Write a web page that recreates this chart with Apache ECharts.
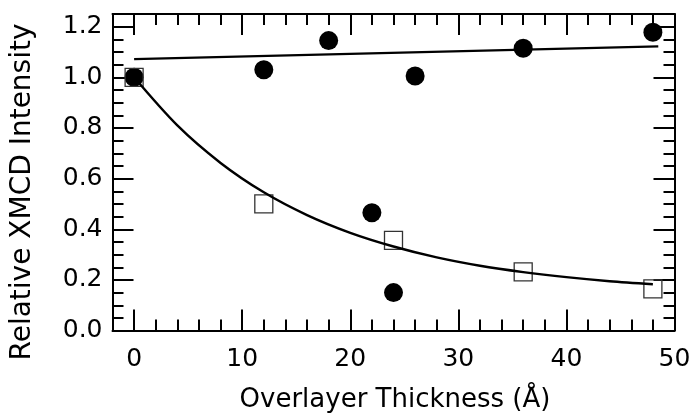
<!DOCTYPE html>
<html>
<head>
<meta charset="utf-8">
<script src="https://cdn.jsdelivr.net/npm/echarts@6/dist/echarts.min.js"></script>
<style>
  html, body { margin: 0; padding: 0; background: #fff; }
  #chart { width: 691px; height: 415px; }
</style>
</head>
<body>
<div id="chart"></div>
<script>
// filled circles
const circlesX = [0, 12, 18, 22, 24, 26, 36, 48];
const circlesY = [1.0, 1.03, 1.145, 0.465, 0.15, 1.005, 1.115, 1.178];
// open squares
const squaresX = [0, 12, 24, 36, 48];
const squaresY = [1.0, 0.5, 0.356, 0.232, 0.165];
// nearly flat fit line through the circles
const flatFitX = [0, 48.5];
const flatFitY = [1.072, 1.122];
// decay curve through the squares
const decayFitX = [0, 4, 8, 12, 16, 20, 24, 28, 32, 36, 40, 44, 48];
const decayFitY = [1.0, 0.81, 0.662, 0.546, 0.456, 0.386, 0.332, 0.289, 0.256, 0.231, 0.211, 0.195, 0.183];

const xMajor = [0, 10, 20, 30, 40, 50];
const xMinor = [2, 4, 6, 8, 12, 14, 16, 18, 22, 24, 26, 28, 32, 34, 36, 38, 42, 44, 46, 48];
const yMajor = [0, 0.2, 0.4, 0.6, 0.8, 1.0, 1.2];
const yMinor = [0.05, 0.1, 0.15, 0.25, 0.3, 0.35, 0.45, 0.5, 0.55, 0.65, 0.7, 0.75,
                0.85, 0.9, 0.95, 1.05, 1.1, 1.15];

const font = "DejaVu Sans";
const pairs = (xs, ys) => xs.map((x, i) => [x, ys[i]]);

const chart = echarts.init(document.getElementById("chart"));

const tickStyle = { color: "#000", width: 2 };

const xAxisBase = (position, values, len, withLine, withLabel) => ({
  type: "value",
  position,
  min: -2,
  max: 50,
  axisLine: { show: withLine, onZero: false, lineStyle: { color: "#000", width: 2 } },
  axisTick: { show: true, inside: true, length: len, customValues: values, lineStyle: tickStyle },
  axisLabel: withLabel
    ? { show: true, customValues: values, color: "#000", fontFamily: font, fontSize: 25, margin: 16 }
    : { show: false },
  splitLine: { show: false },
});

const yAxisBase = (position, values, len, withLine, withLabel) => ({
  type: "value",
  position,
  min: 0,
  max: 1.25,
  axisLine: { show: withLine, onZero: false, lineStyle: { color: "#000", width: 2 } },
  axisTick: { show: true, inside: true, length: len, customValues: values, lineStyle: tickStyle },
  axisLabel: withLabel
    ? {
        show: true,
        customValues: values,
        color: "#000",
        fontFamily: font,
        fontSize: 25,
        margin: 10,
        formatter: (v) => v.toFixed(1),
      }
    : { show: false },
  splitLine: { show: false },
});

chart.setOption({
  animation: false,
  backgroundColor: "#fff",
  grid: { left: 112.5, right: 16.5, top: 14, bottom: 84.4, outerBoundsMode: "none" },
  xAxis: [
    xAxisBase("bottom", xMajor, 21, true, true),
    xAxisBase("bottom", xMinor, 11, false, false),
    xAxisBase("top", xMajor, 21, true, false),
    xAxisBase("top", xMinor, 11, false, false),
  ],
  yAxis: [
    yAxisBase("left", yMajor, 21, true, true),
    yAxisBase("left", yMinor, 11, false, false),
    yAxisBase("right", yMajor, 21, true, false),
    yAxisBase("right", yMinor, 11, false, false),
  ],
  graphic: [
    {
      type: "text",
      x: 395,
      y: 400,
      style: { text: "Overlayer Thickness (Å)", fontFamily: font, fontSize: 26, fill: "#000", align: "center", verticalAlign: "middle" },
    },
    {
      type: "text",
      x: 23,
      y: 192,
      rotation: Math.PI / 2,
      style: { text: "Relative XMCD Intensity", fontFamily: font, fontSize: 28, fill: "#000", align: "center", verticalAlign: "middle" },
    },
  ],
  series: [
    {
      type: "line",
      data: pairs(flatFitX, flatFitY),
      showSymbol: false,
      lineStyle: { color: "#000", width: 2.4 },
    },
    {
      type: "line",
      data: pairs(decayFitX, decayFitY),
      smooth: 0.3,
      showSymbol: false,
      lineStyle: { color: "#000", width: 2.4 },
    },
    {
      type: "scatter",
      data: pairs(circlesX, circlesY),
      symbol: "circle",
      symbolSize: 19,
      itemStyle: { color: "#000", opacity: 1 },
    },
    {
      type: "scatter",
      data: pairs(squaresX, squaresY),
      symbol: "rect",
      symbolSize: 18,
      itemStyle: { color: "rgba(0,0,0,0)", borderColor: "#333", borderWidth: 1.3, opacity: 1 },
    },
  ],
});
</script>
</body>
</html>
